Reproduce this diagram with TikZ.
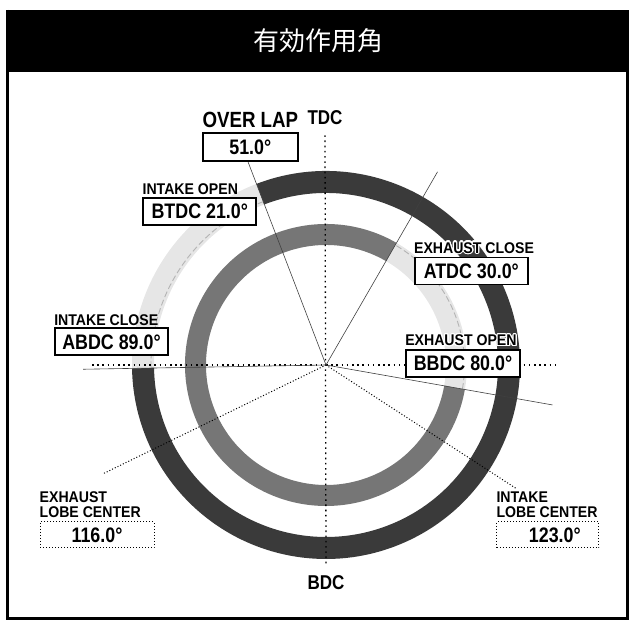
\documentclass[tikz,border=0pt]{standalone}
\usepackage{fontspec}
\usepackage{contour}
\usetikzlibrary{positioning}
\newfontfamily\jpfont{Noto Sans CJK JP}
\newfontfamily\condfont[FakeStretch=0.85]{Liberation Sans}
\newfontfamily\headfont[FakeStretch=0.91]{Liberation Sans}
\contourlength{1.2pt}
\definecolor{ringdark}{RGB}{58,58,58}
\definecolor{ringmid}{RGB}{118,118,118}
\definecolor{ringlight}{RGB}{230,230,230}
\definecolor{dashgray}{RGB}{180,180,180}
\tikzset{
  head/.style={font=\headfont\bfseries\fontsize{15.5}{15.5}\selectfont, inner sep=0pt},
  big/.style={font=\condfont\bfseries\fontsize{21}{21}\selectfont, inner sep=0pt},
  valbox/.style={draw, line width=1.8pt, fill=white, inner sep=0pt, minimum width=113pt, minimum height=27pt, font=\condfont\bfseries\fontsize{21}{21}\selectfont},
  lobebox/.style={draw, dotted, line width=1pt, fill=white, inner sep=0pt, minimum width=114pt, minimum height=26pt, font=\condfont\bfseries\fontsize{21}{21}\selectfont},
  dotline/.style={line width=1.3pt, dash pattern=on 1.6pt off 3.6pt},
  fineline/.style={line width=1pt, dash pattern=on 1pt off 2pt},
  camline/.style={line width=0.6pt, black!75},
  banddash/.style={dashgray, line width=0.9pt, dash pattern=on 6pt off 3pt},
}
\begin{document}
\begin{tikzpicture}[x=1pt,y=1pt]
\useasboundingbox (0,0) rectangle (634,622);
% frame and title bar
\fill (6,550) rectangle (629,612);
\draw[line width=3pt] (7.5,612) -- (7.5,3.5) -- (627.5,3.5) -- (627.5,612);
\node[text=white, font=\jpfont\fontsize{26}{26}\selectfont] (title) at (318,581) {有効作用角};

\coordinate (C) at (326,257);

% intake (outer) and exhaust (inner) rings
\draw[line width=22pt, ringlight] (C) ++(111:183) arc[start angle=111, end angle=181, radius=183];
\draw[line width=22pt, ringdark] (C) ++(111:183) arc[start angle=111, end angle=-179, radius=183];
\draw[banddash] (C) ++(111:175) arc[start angle=111, end angle=181, radius=175];
\draw[line width=21pt, ringlight] (C) ++(-10:130.5) arc[start angle=-10, end angle=60, radius=130.5];
\draw[line width=21pt, ringmid] (C) ++(60:130.5) arc[start angle=60, end angle=350, radius=130.5];
\draw[banddash] (C) ++(-10:138.5) arc[start angle=-10, end angle=60, radius=138.5];

% TDC / BDC axis
\node[big, font=\condfont\bfseries\fontsize{20}{20}\selectfont] (tdc) at (325,504) {TDC};
\node[big, font=\condfont\bfseries\fontsize{20}{20}\selectfont] (bdc) at (326,39.5) {BDC};
\draw[dotline] ([yshift=-10pt]tdc.south) -- ([yshift=10pt]bdc.north);
\coordinate (hl) at (92,257);
\coordinate (hr) at (560,257);
\draw[dotline] (hl) -- (hr);

% lobe centres
\draw[fineline] (C) -- ++(-154:248) coordinate (elc);
\draw[fineline] (C) -- ++(-33:226) coordinate (ilc);

% valve events
\draw[camline] (C) -- ++(111:219) coordinate (io);
\draw[camline] (C) -- ++(60:223) coordinate (ec);
\draw[camline] (C) -- ++(181:243) coordinate (ic);
\draw[camline] (C) -- ++(-10:230) coordinate (eo);

% labels
\node[valbox, minimum width=95pt, minimum height=28pt] (ovbox) at (250.3,475.2) {51.0°};
\node[big, font=\condfont\bfseries\fontsize{22}{22}\selectfont, above=4pt of ovbox] (ovlap) {OVER LAP};

\node[valbox] (iobox) at (199.8,410.5) {BTDC 21.0°};
\node[head, above right=2pt and 0pt of iobox.north west] (iotext) {INTAKE OPEN};

\node[valbox] (ecbox) at (471.3,351) {ATDC 30.0°};
\node[head, above right=2pt and 0pt of ecbox.north west] (ectext) {\contour{white}{EXHAUST CLOSE}};

\node[valbox] (icbox) at (111.5,280.2) {ABDC 89.0°};
\node[head, above right=2pt and 0pt of icbox.north west] (ictext) {INTAKE CLOSE};

\node[valbox, minimum width=114pt] (eobox) at (463,258.5) {BBDC 80.0°};
\node[head, above right=2pt and 0pt of eobox.north west] (eotext) {\contour{white}{EXHAUST OPEN}};

\node[lobebox] (elbox) at (97,87.2) {116.0°};
\node[head, align=left, above right=3pt and 0pt of elbox.north west] (eltext) {EXHAUST\\LOBE CENTER};

\node[lobebox, minimum width=102pt] (ilbox) at (547.8,87.2) {\hspace*{14pt}123.0°};
\node[head, align=left, above right=3pt and 0pt of ilbox.north west] (iltext) {INTAKE\\LOBE CENTER};
\end{tikzpicture}
\end{document}
